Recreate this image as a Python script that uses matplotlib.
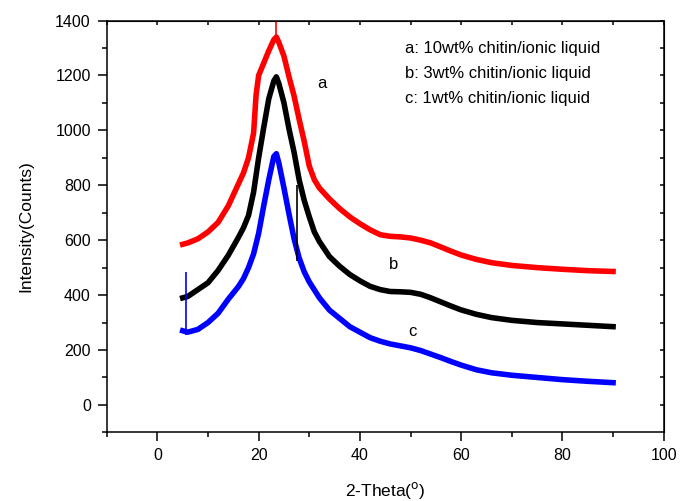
import matplotlib
matplotlib.use("Agg")
import matplotlib.pyplot as plt
from matplotlib.ticker import MultipleLocator

plt.rcParams.update({'font.family': ['Liberation Sans', 'DejaVu Sans'],
                     'font.size': 11.5})

# curve a: 10wt% chitin/ionic liquid
x_a = [5, 6, 8, 10, 12, 14, 16, 17, 18, 19, 19.5, 20, 21, 22, 23, 23.5,
       24, 25, 26, 27, 28, 29, 30, 31, 32, 34, 36, 38, 40, 42, 44, 46, 48, 50, 52,
       54, 56, 58, 60, 63, 66, 70, 75, 80, 85, 90]
y_a = [585, 590, 605, 630, 665, 725, 805, 845, 900, 990, 1130, 1200, 1245, 1290, 1330,
       1340, 1320, 1270, 1195, 1125, 1040, 960, 870, 820, 790, 750, 715, 685,
       660, 638, 620, 614, 612, 608, 600, 590, 575, 560, 546, 530, 518, 508, 500, 494,
       489, 486]

# curve b: 3wt% chitin/ionic liquid
x_b = [5, 6, 8, 10, 12, 14, 16, 17, 18, 19, 20, 21, 22, 23, 23.5, 24, 25, 26, 27,
       28, 29, 30, 31, 32, 34, 36, 38, 40, 42, 44, 46, 48, 50, 52, 54, 56,
       58, 60, 63, 66, 70, 75, 80, 85, 90]
y_b = [390, 395, 420, 445, 490, 545, 610, 645, 690, 775, 900, 1010, 1115, 1180, 1195,
       1170, 1100, 1005, 920, 820, 745, 685, 630, 595, 540, 505, 475, 452,
       432, 420, 413, 412, 410, 403, 390, 375, 360, 346, 330, 318, 308, 300, 295, 290, 285]

# curve c: 1wt% chitin/ionic liquid
x_c = [5, 6, 8, 10, 12, 14, 16, 17, 18, 19, 20, 21, 22, 23, 23.5, 24, 25,
       26, 27, 28, 29, 30, 32, 34, 36, 38, 40, 42, 44, 46, 48, 50, 52, 54, 56, 58, 60,
       63, 66, 70, 75, 80, 85, 90]
y_c = [270, 265, 275, 300, 334, 385, 431, 460, 500, 550, 625, 725, 820,
       905, 915, 880, 790, 695, 605, 535, 485, 448, 390, 345, 315, 285, 265, 245, 232,
       222, 215, 208, 198, 185, 172, 158, 145, 128, 117, 108, 100, 92, 86, 81]

# single-channel spikes (x, low, high)
spike_x = [23.5, 27.5, 5.7]
spike_lo = [1330, 525, 255]
spike_hi = [1400, 800, 485]
spike_colors = ['#ff0000', 'black', '#0000ff']

legend_lines = ["a: 10wt% chitin/ionic liquid",
                "b: 3wt% chitin/ionic liquid",
                "c: 1wt% chitin/ionic liquid"]

fig = plt.figure(figsize=(6.8, 5.01), dpi=100)
ax = fig.add_axes([0.157, 0.137, 0.819, 0.822])

ax.plot(x_a, y_a, color='#ff0000', lw=4)
ax.plot(x_b, y_b, color='black', lw=4)
ax.plot(x_c, y_c, color='#0000ff', lw=4)
ax.vlines(spike_x, spike_lo, spike_hi, colors=spike_colors, lw=1.2)

ax.text(32.5, 1172, 'a', fontsize=12, ha='center', va='center')
ax.text(46.7, 510, 'b', fontsize=12, ha='center', va='center')
ax.text(50.3, 266, 'c', fontsize=12, ha='center', va='center')

for i, s in enumerate(legend_lines):
    ax.text(48.9, 1297 - i * 91, s, fontsize=12, ha='left', va='center')

ax.set_xlim(-10, 100)
ax.set_ylim(-100, 1400)
ax.xaxis.set_minor_locator(MultipleLocator(10))
ax.yaxis.set_minor_locator(MultipleLocator(100))
ax.set_xticks([0, 20, 40, 60, 80, 100])
ax.set_yticks([0, 200, 400, 600, 800, 1000, 1200, 1400])

for sp in ax.spines.values():
    sp.set_linewidth(1.1)

ax.tick_params(which='major', direction='out', length=6.5, width=1.1,
               top=False, right=False, pad=5)
ax.tick_params(which='minor', direction='out', length=3.5, width=1.1,
               top=False, right=False)

# inward ticks on the top and right sides
ax_t = ax.secondary_xaxis('top')
ax_t.set_xticks(list(range(-10, 101, 10)))
ax_t.tick_params(direction='in', length=3, width=1.1, labeltop=False)
ax_r = ax.secondary_yaxis('right')
ax_r.set_yticks(list(range(0, 1401, 100)))
ax_r.tick_params(direction='in', length=3, width=1.1, labelright=False)

ax.set_xlabel('2-Theta($^{\\rm o}$)', fontsize=12.5, labelpad=12)
ax.set_ylabel('Intensity(Counts)', fontsize=12.5, labelpad=16)

fig.savefig('out.png', dpi=100)
